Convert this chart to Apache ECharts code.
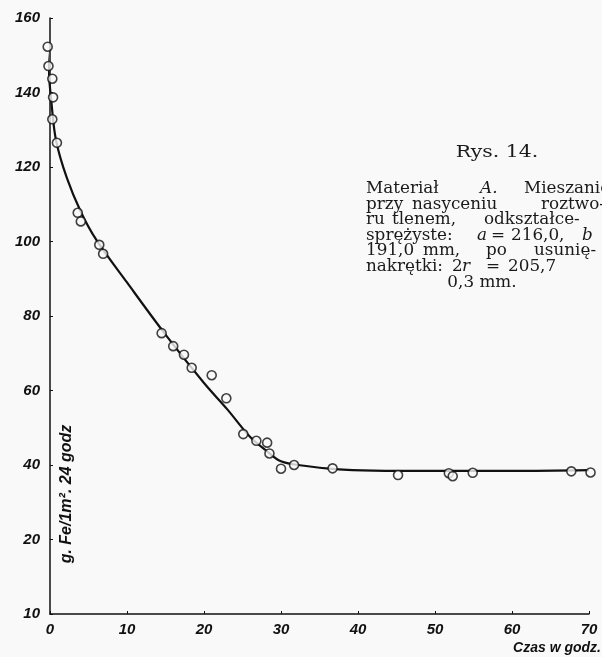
<!DOCTYPE html>
<html><head><meta charset="utf-8">
<script src="https://cdn.jsdelivr.net/npm/echarts@6/dist/echarts.min.js"></script>
<style>html,body{margin:0;padding:0;background:#f9f9f9}#c{width:602px;height:657px}</style>
</head><body><div id="c"></div>
<script>
// measured points: [hours, g Fe/m2·24h]
const pointsX = [-0.3, -0.2, 0.3, 0.4, 0.3, 0.9, 3.6, 4.0, 6.4, 6.9, 14.5, 16.0, 17.4, 18.4, 21.0, 22.9, 25.1, 26.8, 28.2, 28.5, 30.0, 31.7, 36.7, 45.2, 51.8, 52.3, 54.9, 67.7, 70.2];
const pointsY = [152.3, 147.1, 143.7, 138.7, 132.8, 126.5, 107.7, 105.4, 99.1, 96.7, 75.4, 71.9, 69.6, 66.1, 64.1, 57.9, 48.3, 46.5, 46.0, 43.1, 39.0, 40.0, 39.1, 37.3, 37.8, 37.0, 37.9, 38.3, 38.0];
// fitted curve
const curveX = [-0.4, 0.2, 0.8, 2.2, 4.0, 6.0, 10, 15, 20, 23, 26, 28, 30, 33, 37, 42, 50, 60, 70];
const curveY = [151, 137, 127, 117, 108, 100.5, 89, 75, 62, 55, 47.5, 44, 41, 39.8, 38.9, 38.5, 38.4, 38.4, 38.6];
const xTickLabels = ['0','10','20','30','40','50','60','70'];
const yTickLabels = ['10','20','40','60','80','100','120','140','160'];
const yAxisTitle = 'g. Fe/1m². 24 godz';
const xAxisTitle = 'Czas w godz.';
const captionTitle = 'Rys. 14.';
// [word, left x, italic?]
const captionLines = [
  [['Materiał',366],['A.',480,1],['Mieszanie',524]],
  [['przy',366],['nasyceniu',412],['roztwo-',541]],
  [['ru',366],['tlenem,',392],['odkształce-',484]],
  [['sprężyste:',366],['a',477,1],['=',491],['216,0,',511],['b',582,1]],
  [['191,0',366],['mm,',423],['po',486],['usunię-',534]],
  [['nakrętki:',366],['2',452],['r',462,1],['=',486],['205,7',508]]
];
const captionLast = '0,3 mm.';

const chart = echarts.init(document.getElementById('c'), null, {renderer:'canvas'});
const lblFont = {fontFamily:'Liberation Sans', fontStyle:'italic', fontWeight:'bold', fontSize:15, color:'#111'};
const serif = {fontFamily:'DejaVu Serif', fontSize:16, fill:'#1a1a1a'};
const graphics = [];
graphics.push({type:'text', x:497, y:153, scaleX:1.2, style:Object.assign({text:captionTitle, align:'center', verticalAlign:'middle'}, serif, {fontSize:17})});
const lineY = [189, 204.5, 220, 235.5, 251, 266.5];
captionLines.forEach((ln,i)=>ln.forEach(w=>{
  graphics.push({type:'text', x:w[1], y:lineY[i], scaleX:1.05, style:Object.assign({text:w[0], align:'left', verticalAlign:'middle', fontStyle:w[2]?'italic':'normal'}, serif)});
}));
graphics.push({type:'text', x:482, y:283, scaleX:1.05, style:Object.assign({text:captionLast, align:'center', verticalAlign:'middle'}, serif)});
graphics.push({type:'text', x:67, y:494, rotation:Math.PI/2, style:{text:yAxisTitle, fontFamily:'Liberation Sans', fontStyle:'italic', fontWeight:'bold', fontSize:16, fill:'#111', align:'center', verticalAlign:'middle'}});
graphics.push({type:'text', x:601, y:648, style:{text:xAxisTitle, fontFamily:'Liberation Sans', fontStyle:'italic', fontWeight:'bold', fontSize:14, fill:'#111', align:'right', verticalAlign:'middle'}});

chart.setOption({
  backgroundColor:'#f9f9f9',
  animation:false,
  grid:{left:50, right:13, top:18, bottom:43, containLabel:false},
  xAxis:{type:'value', min:0, max:70, interval:10,
    axisLine:{lineStyle:{color:'#111', width:1.5}},
    axisTick:{inside:true, length:3, lineStyle:{color:'#111'}},
    splitLine:{show:false},
    axisLabel:Object.assign({margin:8, formatter:(v)=>xTickLabels[Math.round(v/10)]}, lblFont)},
  yAxis:{type:'value', min:0, max:160, interval:20,
    axisLine:{show:true, lineStyle:{color:'#111', width:1.5}},
    axisTick:{show:true, inside:true, length:3, lineStyle:{color:'#111'}},
    splitLine:{show:false},
    axisLabel:Object.assign({margin:10, formatter:(v)=>yTickLabels[Math.round(v/20)]}, lblFont)},
  graphic:graphics,
  series:[
    {type:'line', data:curveX.map((x,i)=>[x,curveY[i]]), smooth:0.35, showSymbol:false, clip:false,
      lineStyle:{color:'#111', width:2.2}, z:2},
    {type:'scatter', data:pointsX.map((x,i)=>[x,pointsY[i]]), symbol:'circle', symbolSize:9, clip:false,
      itemStyle:{color:'#f9f9f9', borderColor:'#111', borderWidth:1.6}, z:3}
  ]
});
</script></body></html>
